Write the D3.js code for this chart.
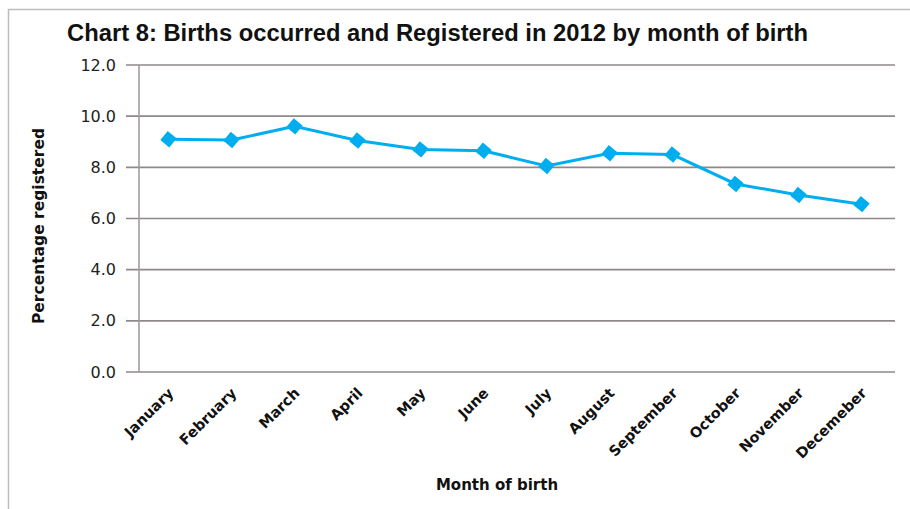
<!DOCTYPE html>
<html>
<head>
<meta charset="utf-8">
<script src="https://cdn.jsdelivr.net/npm/d3@7"></script>
<style>
  body { margin: 0; background: #fff; }
  svg { display: block; }
</style>
</head>
<body>
<div id="chart"></div>
<script>
// Data
var months = ["January", "February", "March", "April", "May", "June",
              "July", "August", "September", "October", "November", "Decemeber"];
var registered = [9.1, 9.07, 9.6, 9.05, 8.7, 8.65, 8.05, 8.55, 8.5, 7.35, 6.92, 6.56];
var yTicks = [0, 2, 4, 6, 8, 10, 12];

var width = 910, height = 509;
var plotLeft = 139, plotRight = 895, plotTop = 65, plotBottom = 372;

var svg = d3.select("#chart").append("svg")
    .attr("width", width)
    .attr("height", height);

// border round the chart (only top and left are visible)
svg.append("rect")
    .attr("x", 8.5).attr("y", 9.5)
    .attr("width", width + 10).attr("height", height + 10)
    .attr("fill", "none")
    .attr("stroke", "#bdbdbd")
    .attr("stroke-width", 1.5);

var x = d3.scalePoint().domain(months).range([137, 893]).padding(0.5);
var y = d3.scaleLinear().domain([0, 12]).range([plotBottom, plotTop]);

// gridlines + tick marks to the left
svg.append("g").selectAll("line")
    .data(yTicks)
    .enter().append("line")
    .attr("x1", 126).attr("x2", plotRight)
    .attr("y1", d => y(d)).attr("y2", d => y(d))
    .attr("stroke", "#8e8888")
    .attr("stroke-width", 1.6);

// y axis line
svg.append("line")
    .attr("x1", plotLeft).attr("x2", plotLeft)
    .attr("y1", plotTop).attr("y2", plotBottom)
    .attr("stroke", "#a39d9d")
    .attr("stroke-width", 1.6);

// y tick labels
svg.append("g").selectAll("text")
    .data(yTicks)
    .enter().append("text")
    .attr("x", 116)
    .attr("y", d => y(d) + 5.5)
    .attr("text-anchor", "end")
    .attr("font-family", "DejaVu Sans")
    .attr("font-size", 16)
    .attr("fill", "#222")
    .text(d => d3.format(".1f")(d));

// x labels, rotated
svg.append("g").selectAll("text")
    .data(months)
    .enter().append("text")
    .attr("transform", d => "translate(" + (x(d) + 6) + "," + 394 + ") rotate(-45)")
    .attr("text-anchor", "end")
    .attr("font-family", "DejaVu Sans")
    .attr("font-weight", "bold")
    .attr("font-size", 14.5)
    .attr("fill", "#111")
    .text(d => d);

// the line
var line = d3.line()
    .x((d, i) => x(months[i]))
    .y(d => y(d));

svg.append("path")
    .datum(registered)
    .attr("d", line)
    .attr("fill", "none")
    .attr("stroke", "#00aeef")
    .attr("stroke-width", 3);

// diamond markers
var diamond = d3.symbol().type(d3.symbolSquare).size(135);
svg.append("g").selectAll("path")
    .data(registered)
    .enter().append("path")
    .attr("d", diamond)
    .attr("transform", (d, i) => "translate(" + x(months[i]) + "," + y(d) + ") rotate(40)")
    .attr("fill", "#00aeef");

// title
svg.append("text")
    .attr("x", 67).attr("y", 41)
    .attr("font-family", "Liberation Sans")
    .attr("font-weight", "bold")
    .attr("font-size", 23)
    .attr("textLength", 741)
    .attr("lengthAdjust", "spacingAndGlyphs")
    .attr("fill", "#111")
    .text("Chart 8: Births occurred and Registered in 2012 by month of birth");

// axis titles
svg.append("text")
    .attr("transform", "translate(44,226) rotate(-90)")
    .attr("text-anchor", "middle")
    .attr("font-family", "DejaVu Sans")
    .attr("font-weight", "bold")
    .attr("font-size", 15.5)
    .attr("fill", "#111")
    .text("Percentage registered");

svg.append("text")
    .attr("x", 497).attr("y", 490)
    .attr("text-anchor", "middle")
    .attr("font-family", "DejaVu Sans")
    .attr("font-weight", "bold")
    .attr("font-size", 15)
    .attr("fill", "#111")
    .text("Month of birth");
</script>
</body>
</html>
